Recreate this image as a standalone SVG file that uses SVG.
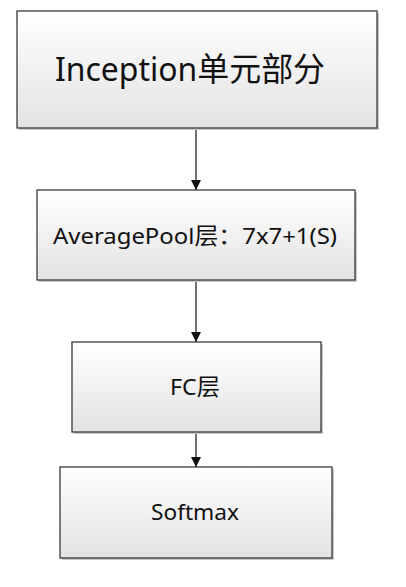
<svg xmlns="http://www.w3.org/2000/svg" width="406" height="587" viewBox="0 0 406 587">
  <defs>
    <linearGradient id="g" x1="0" y1="0" x2="0" y2="1">
      <stop offset="0" stop-color="#ffffff"/>
      <stop offset="1" stop-color="#e3e3e3"/>
    </linearGradient>
    <marker id="arr" viewBox="0 0 10 10" refX="10" refY="5" markerWidth="10" markerHeight="10" markerUnits="userSpaceOnUse" orient="auto">
      <path d="M0,0 L10,5 L0,10 z" fill="#111"/>
    </marker>
  </defs>
  <style>
    .box { fill: url(#g); stroke: #3a3a3a; stroke-width: 1.3; }
    .shadow { fill: #c8c8c8; }
    .t { font-family: "Noto Sans", "Open Sans", "Noto Sans CJK SC", sans-serif; fill: #111; text-anchor: middle; }
    .conn { stroke: #222; stroke-width: 1.3; fill: none; marker-end: url(#arr); }
  </style>
  <rect width="406" height="587" fill="#ffffff"/>
  <g id="connectors">
    <line class="conn" x1="196" y1="128" x2="196" y2="190"/>
    <line class="conn" x1="196" y1="280" x2="196" y2="342"/>
    <line class="conn" x1="196" y1="432" x2="196" y2="467"/>
  </g>
  <g id="inception">
    <rect class="shadow" x="19" y="13" width="360" height="117"/>
    <rect class="box" x="17" y="11" width="360" height="117"/>
    <text class="t" x="190" y="81" font-size="33" textLength="270" lengthAdjust="spacingAndGlyphs">Inception单元部分</text>
  </g>
  <g id="avgpool">
    <rect class="shadow" x="39" y="192" width="318" height="90"/>
    <rect class="box" x="37" y="190" width="318" height="90"/>
    <text class="t" x="195" y="244" font-size="22.5" textLength="284" lengthAdjust="spacingAndGlyphs">AveragePool层：7x7+1(S)</text>
  </g>
  <g id="fc">
    <rect class="shadow" x="74" y="344" width="249" height="90"/>
    <rect class="box" x="72" y="342" width="249" height="90"/>
    <text class="t" x="195" y="395" font-size="22.5" textLength="50" lengthAdjust="spacingAndGlyphs">FC层</text>
  </g>
  <g id="softmax">
    <rect class="shadow" x="62" y="469" width="272" height="91"/>
    <rect class="box" x="60" y="467" width="272" height="91"/>
    <text class="t" x="195" y="520" font-size="22.5" textLength="88" lengthAdjust="spacingAndGlyphs">Softmax</text>
  </g>
</svg>
